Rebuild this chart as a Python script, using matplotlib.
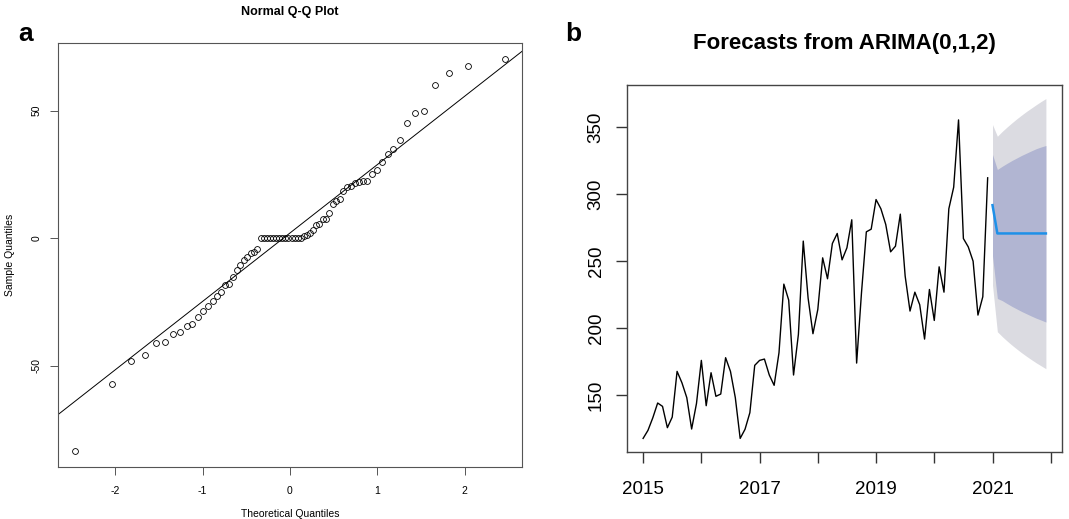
import numpy as np
import matplotlib.pyplot as plt
from statistics import NormalDist

plt.rcParams['font.family'] = ['Liberation Sans', 'DejaVu Sans']
plt.rcParams['axes.unicode_minus'] = False

# ==========================================
# 1. data
# ==========================================
# a: sorted sample quantiles (72 values)
sample_q = [-83.6, -57.2, -48.3, -45.7, -41.3, -40.9, -37.6, -36.8, -34.5, -33.7,
            -31.1, -28.6, -26.5, -24.8, -22.7, -21.3, -18.3, -18.0, -15.4, -12.4,
            -10.4, -8.4, -7.4, -6.0, -5.4, -4.2,
            0.0, 0.0, 0.0, 0.0, 0.0, 0.0, 0.0, 0.0, 0.0, 0.0, 0.0, 0.0, 0.0, 0.0,
            0.9, 1.3, 2.2, 3.3, 5.2, 5.5, 7.4, 7.6, 9.9, 13.3,
            14.4, 15.4, 18.7, 20.0, 20.5, 21.5, 22.2, 22.3, 22.6, 25.2,
            26.8, 30.0, 33.2, 34.9, 38.4, 45.0, 49.0, 49.9, 60.2, 64.9,
            67.6, 70.4]

# b: monthly series 2015-01 .. 2020-12
series = [117.6, 123.6, 133.0, 144.0, 141.5, 125.6, 133.5, 167.6, 159.1, 148.0, 124.6, 143.7,
          175.8, 142.0, 166.6, 149.0, 150.7, 177.8, 167.6, 148.0, 117.6, 124.4, 136.8, 172.1,
          175.8, 176.8, 164.9, 157.2, 181.5, 232.7, 220.8, 164.9, 195.2, 264.8, 222.3, 195.7,
          213.8, 252.3, 236.7, 263.0, 270.5, 250.8, 259.8, 280.7, 173.8, 226.2, 271.7, 273.7,
          295.8, 288.9, 277.2, 256.8, 261.0, 284.9, 238.7, 212.6, 226.7, 217.3, 191.7, 228.7,
          205.6, 245.6, 226.7, 288.9, 305.0, 355.2, 266.7, 260.5, 249.8, 209.6, 223.3, 312.0]
start_year = 2015

# forecasts 2021-01 .. 2021-12
fc_mean = [291.6, 270.5, 270.5, 270.5, 270.5, 270.5, 270.5, 270.5, 270.5, 270.5, 270.5, 270.5]
hi80 = [329.4, 318.2, 320.6, 322.8, 324.9, 326.8, 328.7, 330.4, 332.1, 333.7, 335.0, 336.1]
lo80 = [253.8, 222.0, 220.4, 218.2, 216.1, 214.2, 212.3, 210.6, 208.9, 207.3, 205.9, 204.4]
hi95 = [351.7, 343.0, 346.6, 349.9, 353.0, 356.0, 358.8, 361.5, 364.0, 366.5, 368.9, 371.1]
lo95 = [232.0, 197.2, 193.6, 190.3, 187.2, 184.3, 181.5, 178.9, 176.4, 174.0, 171.8, 169.6]

year_ticks = [2015, 2016, 2017, 2018, 2019, 2020, 2021, 2022]
year_labels = ['2015', '', '2017', '', '2019', '', '2021', '']


def pad_range(lo, hi, frac=0.04):
    # R style axis range (4% on each side)
    d = (hi - lo) * frac
    return lo - d, hi + d


W, H = 1069, 519
fig = plt.figure(figsize=(W / 100, H / 100), dpi=100)


def px_axes(left, top, right, bottom):
    return fig.add_axes([left / W, 1 - bottom / H, (right - left) / W, (bottom - top) / H])


# ==========================================
# 2. panel a: normal Q-Q plot
# ==========================================
ax1 = px_axes(58, 43, 522, 467)
n = len(sample_q)
y = np.sort(np.array(sample_q))
nd = NormalDist()
x = np.array([nd.inv_cdf((i + 0.5) / n) for i in range(n)])

ax1.plot(x, y, 'o', mfc='none', mec='black', ms=4.2, mew=0.6)

# qqline through the quartiles
q1, q3 = np.percentile(y, [25, 75])
x1, x3 = nd.inv_cdf(0.25), nd.inv_cdf(0.75)
slope = (q3 - q1) / (x3 - x1)
icpt = q1 - slope * x1
ax1.axline((0, icpt), slope=slope, color='black', lw=0.7)

ax1.set_xlim(*pad_range(x.min(), x.max()))
ax1.set_ylim(*pad_range(y.min(), y.max()))
ax1.set_xticks([-2, -1, 0, 1, 2])
ax1.set_yticks([-50, 0, 50])
ax1.tick_params(length=6, width=0.7, color='#555555', labelsize=7.5, pad=8)
ax1.tick_params(axis='y', pad=6)
for lab in ax1.get_yticklabels():
    lab.set_rotation(90)
    lab.set_va('center')
for s in ax1.spines.values():
    s.set_color('#555555')
    s.set_linewidth(0.8)
ax1.set_xlabel('Theoretical Quantiles', fontsize=7.5, labelpad=9)
ax1.set_ylabel('Sample Quantiles', fontsize=7.5, labelpad=12)
ax1.set_title('Normal Q-Q Plot', fontsize=9, fontweight='bold', pad=20)

# ==========================================
# 3. panel b: ARIMA forecasts
# ==========================================
ax2 = px_axes(627, 85, 1062, 452)
t = start_year + np.arange(len(series)) / 12
tf = start_year + (len(series) + np.arange(len(fc_mean))) / 12

ax2.fill_between(tf, lo95, hi95, color='#DBDBE1', lw=0)
ax2.fill_between(tf, lo80, hi80, color='#B1B5D2', lw=0)
ax2.plot(t, series, color='black', lw=1.0)
ax2.plot(tf, fc_mean, color='#1E90E8', lw=1.8)

ax2.set_xlim(*pad_range(t.min(), tf.max()))
ax2.set_ylim(*pad_range(min(series), max(hi95)))
ax2.set_xticks(year_ticks)
ax2.set_xticklabels(year_labels)
ax2.set_yticks([150, 200, 250, 300, 350])
ax2.tick_params(length=8, width=1.0, color='#333333', labelsize=13.5, pad=8)
ax2.tick_params(axis='x', pad=13)
for lab in ax2.get_yticklabels():
    lab.set_rotation(90)
    lab.set_va('center')
for s in ax2.spines.values():
    s.set_color('#444444')
    s.set_linewidth(1.0)
ax2.set_title('Forecasts from ARIMA(0,1,2)', fontsize=16, fontweight='bold', pad=26)

# panel letters
fig.text(26 / W, 1 - 34 / H, 'a', fontsize=19, fontweight='bold', ha='center', va='center')
fig.text(573 / W, 1 - 34 / H, 'b', fontsize=19, fontweight='bold', ha='center', va='center')

fig.savefig('out.png', dpi=100)
